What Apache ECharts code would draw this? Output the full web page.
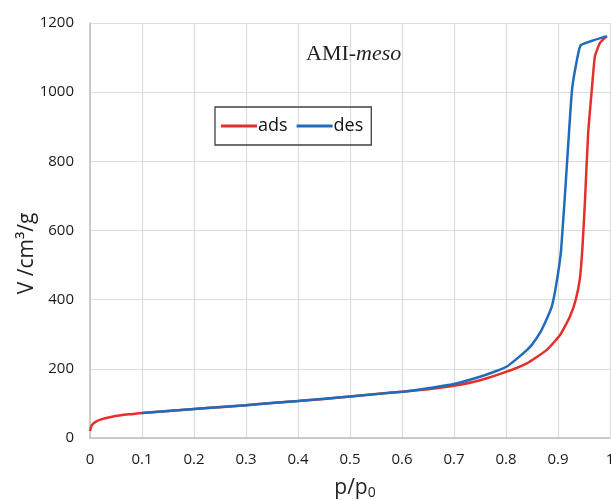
<!DOCTYPE html>
<html>
<head>
<meta charset="utf-8">
<script src="https://cdn.jsdelivr.net/npm/echarts@6/dist/echarts.min.js"></script>
<style>
  html, body { margin: 0; padding: 0; background: #fff; }
  #chart { width: 611px; height: 500px; }
</style>
</head>
<body>
<div id="chart"></div>
<script>
// adsorption branch: [p/p0, V]
const adsData = [
  [0, 20], [0.003, 36], [0.01, 46], [0.02, 53], [0.04, 61], [0.06, 66], [0.08, 69], [0.1, 72],
  [0.15, 78], [0.2, 84], [0.25, 89], [0.3, 95], [0.35, 101], [0.4, 107], [0.45, 113], [0.5, 120],
  [0.55, 127], [0.6, 134], [0.65, 141], [0.7, 151], [0.75, 167], [0.8, 191], [0.84, 216],
  [0.878, 254], [0.904, 298], [0.923, 351], [0.934, 399], [0.942, 460], [0.947, 550],
  [0.952, 690], [0.958, 882], [0.965, 1007], [0.971, 1104], [0.981, 1143], [0.994, 1162]
]
// desorption branch
const desData = [
  [0.994, 1162], [0.944, 1136], [0.938, 1105], [0.927, 1007], [0.9165, 775], [0.906, 544],
  [0.897, 447], [0.888, 380], [0.877, 340], [0.865, 303], [0.85, 270], [0.84, 254], [0.82, 228],
  [0.801, 206], [0.775, 190], [0.75, 177], [0.7, 156], [0.65, 144], [0.6, 134], [0.5, 120],
  [0.4, 107], [0.3, 95], [0.2, 84], [0.1, 72]
]
const seriesNames = ['ads', 'des']
const seriesColors = ['#e3302b', '#1f6cbf']

const chart = echarts.init(document.getElementById('chart'))
const labelFont = "'Open Sans', 'Noto Sans', sans-serif"

chart.setOption({
  animation: false,
  title: {
    text: '{a|AMI-}{b|meso}',
    left: 301,
    top: 38,
    textStyle: {
      rich: {
        a: { fontFamily: "'Liberation Serif', serif", fontSize: 22, fontWeight: 'normal', color: '#222' },
        b: { fontFamily: "'Liberation Serif', serif", fontSize: 22, fontWeight: 'normal', fontStyle: 'italic', color: '#222' }
      }
    }
  },
  legend: {
    left: 215,
    top: 107,
    data: seriesNames,
    icon: 'rect',
    itemWidth: 36,
    itemHeight: 3,
    itemGap: 9,
    borderColor: '#404040',
    borderWidth: 1.3,
    padding: [10, 8, 10, 6],
    textStyle: { fontFamily: labelFont, fontSize: 18, color: '#111', padding: [0, 0, 0, -4] }
  },
  grid: { left: 90, right: 1, top: 23, bottom: 62, outerBoundsMode: 'none', containLabel: false },
  xAxis: {
    type: 'value',
    min: 0,
    max: 1,
    interval: 0.1,
    name: '{a|p/p}{b|0}',
    nameLocation: 'middle',
    nameGap: 38,
    nameMoveOverlap: false,
    nameTextStyle: {
      padding: [0, 0, 0, 10],
      rich: {
        a: { fontFamily: labelFont, fontSize: 21, color: '#222' },
        b: { fontFamily: labelFont, fontSize: 14, color: '#222', padding: [10, 0, 0, 0] }
      }
    },
    axisLine: { lineStyle: { color: '#bfbfbf', width: 1.5 } },
    axisTick: { show: false },
    axisLabel: {
      fontFamily: labelFont, fontSize: 15, color: '#1a1a1a', margin: 14,
      formatter: v => String(Math.round(v * 10) / 10)
    },
    splitLine: { lineStyle: { color: '#dcdcdc', width: 1.2 } }
  },
  yAxis: {
    type: 'value',
    min: 0,
    max: 1200,
    interval: 200,
    name: 'V /cm³/g',
    nameLocation: 'middle',
    nameGap: 52,
    nameMoveOverlap: false,
    nameTextStyle: { fontFamily: labelFont, fontSize: 21, color: '#222', padding: [0, 46, 0, 0] },
    axisLine: { show: true, lineStyle: { color: '#bfbfbf', width: 1.5 } },
    axisTick: { show: false },
    axisLabel: { fontFamily: labelFont, fontSize: 15, color: '#1a1a1a', margin: 16, formatter: v => String(v) },
    splitLine: { lineStyle: { color: '#dcdcdc', width: 1.2 } }
  },
  series: [
    {
      name: seriesNames[0], type: 'line', data: adsData, symbol: 'none', smooth: 0.15,
      color: seriesColors[0], lineStyle: { width: 2.5, color: seriesColors[0] }
    },
    {
      name: seriesNames[1], type: 'line', data: desData, symbol: 'none', smooth: 0.15,
      color: seriesColors[1], lineStyle: { width: 2.5, color: seriesColors[1] }
    }
  ]
})
</script>
</body>
</html>
